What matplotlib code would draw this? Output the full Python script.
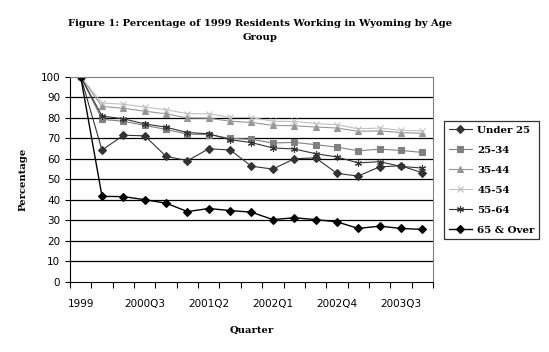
import numpy as np
import matplotlib
matplotlib.use("Agg")
import matplotlib.pyplot as plt

# ================= DATA =================
quarters = ["1999",
            "2000Q1", "2000Q2", "2000Q3", "2000Q4",
            "2001Q1", "2001Q2", "2001Q3", "2001Q4",
            "2002Q1", "2002Q2", "2002Q3", "2002Q4",
            "2003Q1", "2003Q2", "2003Q3", "2003Q4"]

under_25 = [100, 64.2, 71.5, 71.2, 61.2, 59.1, 64.9, 64.3, 56.4,
            55.0, 60.0, 60.5, 52.9, 51.6, 56.1, 56.6, 53.2]
age_25_34 = [100, 79.2, 78.3, 76.3, 74.3, 72.0, 71.8, 70.0, 69.5,
             67.7, 68.0, 66.9, 65.7, 63.9, 64.7, 64.1, 63.1]
age_35_44 = [100, 85.5, 84.6, 83.2, 81.9, 79.9, 79.8, 78.3, 77.7,
             76.3, 76.1, 75.5, 75.0, 73.4, 73.6, 72.8, 72.4]
age_45_54 = [100, 87.2, 86.6, 85.2, 83.9, 82.0, 81.9, 80.2, 80.1,
             78.3, 78.2, 77.2, 76.6, 74.6, 75.0, 73.9, 73.6]
age_55_64 = [100, 80.8, 79.5, 77.0, 75.4, 72.8, 72.2, 69.3, 67.9,
             65.3, 64.8, 62.5, 60.9, 58.0, 58.6, 56.3, 55.5]
age_65_over = [100, 41.7, 41.6, 40.1, 38.4, 34.3, 35.8, 34.8, 34.0,
               30.4, 31.3, 30.4, 29.3, 26.1, 27.2, 26.1, 25.6]

series_names = ["Under 25", "25-34", "35-44", "45-54", "55-64", "65 & Over"]

# ================= PLOT =================
fig = plt.figure(figsize=(5.49, 3.52), dpi=100)
ax = fig.add_axes([70/549, 1 - 282/352, 363/549, 205.3/352])

x = np.arange(len(quarters))
styles = [
    (under_25, "#333333", "D", 4.0, 0.8),
    (age_25_34, "#808080", "s", 4.2, 0.8),
    (age_35_44, "#969696", "^", 4.8, 0.8),
    (age_45_54, "#c0c0c0", "x", 4.0, 0.8),
    (age_55_64, "#333333", (6, 2, 0), 5.0, 0.8),
    (age_65_over, "#000000", "D", 4.0, 1.0),
]
for (vals, col, mk, ms, lw), name in zip(styles, series_names):
    ax.plot(x, vals, color=col, marker=mk, markersize=ms, linewidth=lw,
            markeredgewidth=0.8, label=name)

ax.set_xlim(-0.5, len(quarters) - 0.5)
ax.set_ylim(0, 100)
ax.set_yticks(np.arange(0, 101, 10))
for v in range(10, 100, 10):
    ax.axhline(v, color="black", linewidth=0.9, zorder=0)

# category boundary ticks + labels every third quarter
ax.set_xticks(np.arange(-0.5, len(quarters), 1))
ax.set_xticklabels([])
ax.set_xticks(x[::3], minor=True)
ax.set_xticklabels(quarters[::3], minor=True)
ax.tick_params(axis="x", which="major", direction="out", length=4, width=0.8)
ax.tick_params(axis="x", which="minor", length=0, pad=12, labelsize=7.5)
ax.tick_params(axis="y", direction="out", length=3.5, width=0.8, labelsize=7.5)

for lab in ax.get_xticklabels(minor=True) + ax.get_yticklabels():
    lab.set_family("DejaVu Sans")

ax.spines["left"].set_color("black")
ax.spines["bottom"].set_color("black")
ax.spines["top"].set_color("#808080")
ax.spines["right"].set_color("#808080")

ax.set_xlabel("Quarter", family="DejaVu Serif", fontweight="bold", fontsize=7.2)
ax.xaxis.set_label_coords(0.5, -0.215)
ax.set_ylabel("Percentage", family="DejaVu Serif", fontweight="bold", fontsize=7.2)
ax.yaxis.set_label_coords(-0.118, 0.5)

fig.text(260.5/549, 1 - 23.5/352,
         "Figure 1: Percentage of 1999 Residents Working in Wyoming by Age",
         ha="center", va="center", family="DejaVu Serif", fontweight="bold",
         fontsize=7.2)
fig.text(260.5/549, 1 - 37.5/352, "Group", ha="center", va="center",
         family="DejaVu Serif", fontweight="bold", fontsize=7.2)

leg = ax.legend(loc="upper left", bbox_to_anchor=(444/549, 1 - 121/352),
                bbox_transform=fig.transFigure, frameon=True, fancybox=False,
                edgecolor="black", handlelength=2.3, handletextpad=0.5,
                borderpad=0.45, labelspacing=1.05, borderaxespad=0,
                prop={"family": "DejaVu Serif", "weight": "bold", "size": 7.4})
leg.get_frame().set_linewidth(0.9)

fig.savefig("out.png", dpi=100)
